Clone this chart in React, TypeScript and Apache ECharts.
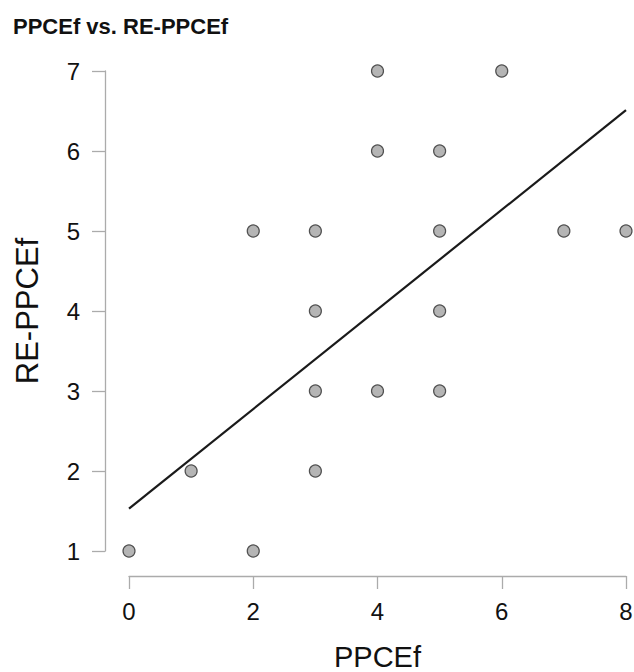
import React, { useEffect, useRef } from "react";
import * as echarts from "echarts";

const titleText = "PPCEf vs. RE-PPCEf";
const xName = "PPCEf";
const yName = "RE-PPCEf";

const ppcef = [0, 1, 2, 2, 3, 3, 3, 3, 4, 4, 4, 5, 5, 5, 5, 6, 7, 8];
const rePpcef = [1, 2, 1, 5, 5, 4, 3, 2, 7, 6, 3, 6, 5, 4, 3, 7, 5, 5];

const fitX = [0, 8];
const fitY = [1.53, 6.51];

const FONT = "'Liberation Sans', Arial, Helvetica, sans-serif";

export default function App() {
  const ref = useRef<HTMLDivElement>(null);

  useEffect(() => {
    if (!ref.current) return;
    const chart = echarts.init(ref.current, null, { renderer: "svg" });
    const axisGrey = "#ababab";
    chart.setOption({
      animation: false,
      backgroundColor: "#ffffff",
      title: {
        text: titleText,
        left: 8,
        top: 10,
        textStyle: { fontFamily: FONT, fontSize: 22, fontWeight: "bold", color: "#111" },
      },
      grid: {
        left: 129,
        right: 8,
        top: 71,
        bottom: 121,
        containLabel: false,
        outerBoundsMode: "none",
      },
      xAxis: {
        type: "value",
        min: 0,
        max: 8,
        interval: 2,
        offset: 25,
        name: xName,
        nameLocation: "middle",
        nameGap: 67,
        nameTextStyle: { fontFamily: FONT, fontSize: 29, lineHeight: 28, color: "#111" },
        axisLine: { show: true, onZero: false, lineStyle: { color: axisGrey, width: 1.3 } },
        axisTick: { show: true, inside: false, length: 13, lineStyle: { color: axisGrey, width: 1.3 } },
        axisLabel: { fontFamily: FONT, fontSize: 24, color: "#111", margin: 23 },
        splitLine: { show: false },
      },
      yAxis: {
        type: "value",
        min: 1,
        max: 7,
        interval: 1,
        offset: 24,
        name: yName,
        nameLocation: "middle",
        nameGap: 62,
        nameTextStyle: { fontFamily: FONT, fontSize: 31, color: "#111" },
        axisLine: { show: true, onZero: false, lineStyle: { color: axisGrey, width: 1.3 } },
        axisTick: { show: true, inside: false, length: 13, lineStyle: { color: axisGrey, width: 1.3 } },
        axisLabel: { fontFamily: FONT, fontSize: 24, color: "#111", margin: 25 },
        splitLine: { show: false },
      },
      series: [
        {
          type: "line",
          data: fitX.map((x, i) => [x, fitY[i]]),
          symbol: "none",
          lineStyle: { color: "#1a1a1a", width: 2.2 },
          z: 2,
        },
        {
          type: "scatter",
          data: ppcef.map((x, i) => [x, rePpcef[i]]),
          symbolSize: 12,
          clip: false,
          itemStyle: { color: "#b5b5b5", borderColor: "#505050", borderWidth: 1.2, opacity: 1 },
          z: 3,
        },
      ],
    });
    return () => chart.dispose();
  }, []);

  return (
    <div
      ref={ref}
      style={{ position: "absolute", left: 0, top: 0, width: 634, height: 672 }}
    />
  );
}
